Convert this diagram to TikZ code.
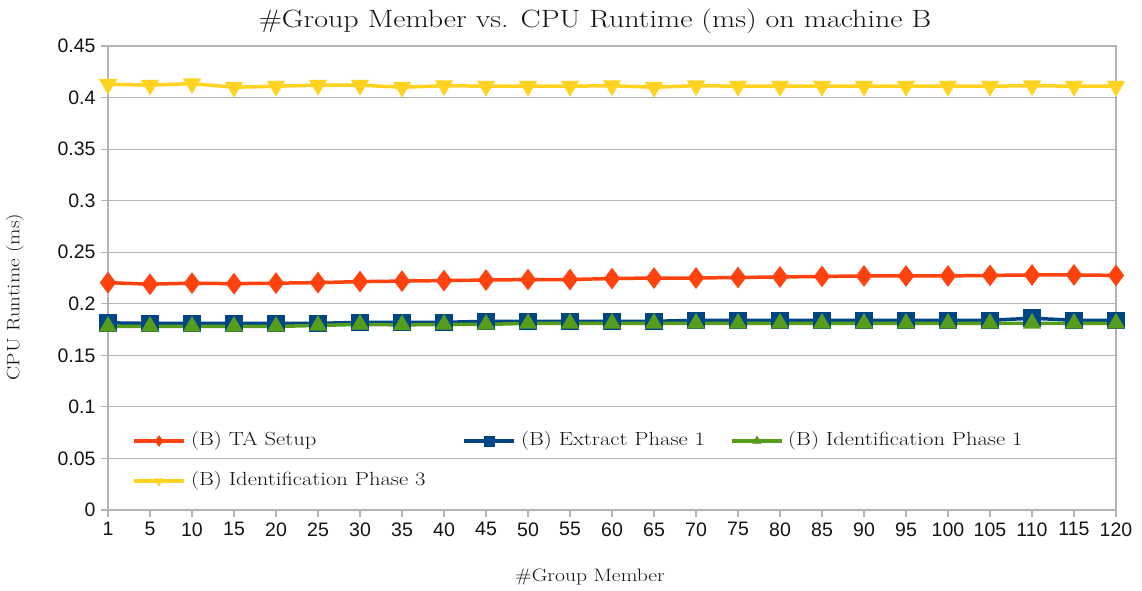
\documentclass[tikz,border=0pt]{standalone}
\usepackage{fontspec}
\usepackage{tikz}
\usepackage{pgfplots}
\usepackage{xcolor}
\pgfplotsset{compat=1.18}
\newfontfamily\ticksans{Liberation Sans}
\newcommand\wideserif[3]{{\fontsize{#1}{#1}\selectfont\scalebox{#2}[1]{#3}}}
\definecolor{Ink}{HTML}{141414}
\definecolor{Rule}{HTML}{B3B3B3}
\definecolor{SerRed}{HTML}{FF420E}
\definecolor{SerBlue}{HTML}{004586}
\definecolor{SerGreen}{HTML}{579D1C}
\definecolor{SerYellow}{HTML}{FFD320}

\begin{document}
\begin{tikzpicture}[x=1pt,y=1pt,
  lbl/.style={text=Ink,inner sep=0pt},
  legtxt/.style={lbl,anchor=west},
  legline/.style={line width=3.5pt},
  every node/.style={text=Ink}]
  \useasboundingbox (0,0) rectangle (1142,590);
  \begin{axis}[name=chart,at={(108pt,80pt)},anchor=south west,
    scale only axis,width=1008pt,height=464pt,
    xmin=0,xmax=24,ymin=0,ymax=0.45,
    xtick={0,...,24},
    xticklabels={1,5,10,15,20,25,30,35,40,45,50,55,60,65,70,75,80,85,90,95,100,105,110,115,120},
    ytick={0,0.05,0.1,0.15,0.2,0.25,0.3,0.35,0.4,0.45},
    yticklabels={0,0.05,0.1,0.15,0.2,0.25,0.3,0.35,0.4,0.45},
    tick pos=left,tick align=outside,major tick length=7pt,
    tick style={Rule,line width=1.2pt},
    axis line style={Rule,line width=1.5pt},
    ymajorgrids,grid style={Rule,line width=1.2pt},
    ticklabel style={font=\ticksans\fontsize{19.5}{20}\selectfont,text=Ink},
    yticklabel style={xshift=-2pt},
    xticklabel style={yshift=-2pt},
    clip=false,
    every axis plot/.append style={line width=3.5pt,mark size=7pt,mark options={solid}}]
    % TA setup
    \addplot[SerRed,mark=diamond*,mark size=8pt] coordinates {
      (0,0.2205)(1,0.219)(2,0.220)(3,0.2195)(4,0.220)(5,0.2205)(6,0.2215)(7,0.222)(8,0.2225)
      (9,0.223)(10,0.2235)(11,0.2235)(12,0.2245)(13,0.225)(14,0.225)(15,0.2255)(16,0.226)
      (17,0.2265)(18,0.227)(19,0.227)(20,0.227)(21,0.2275)(22,0.228)(23,0.228)(24,0.2275)};
    % extract phase 1
    \addplot[SerBlue,mark=square*] coordinates {
      (0,0.1815)(1,0.181)(2,0.181)(3,0.181)(4,0.181)(5,0.181)(6,0.182)(7,0.182)(8,0.182)
      (9,0.183)(10,0.183)(11,0.183)(12,0.183)(13,0.183)(14,0.184)(15,0.184)(16,0.184)
      (17,0.184)(18,0.184)(19,0.184)(20,0.184)(21,0.184)(22,0.186)(23,0.184)(24,0.184)};
    % identification phase 1
    \addplot[SerGreen,mark=triangle*] coordinates {
      (0,0.178)(1,0.178)(2,0.178)(3,0.178)(4,0.178)(5,0.179)(6,0.180)(7,0.1795)(8,0.180)
      (9,0.180)(10,0.181)(11,0.181)(12,0.181)(13,0.181)(14,0.181)(15,0.181)(16,0.181)
      (17,0.181)(18,0.181)(19,0.181)(20,0.181)(21,0.181)(22,0.181)(23,0.181)(24,0.181)};
    % identification phase 3
    \addplot[SerYellow,mark=triangle*,mark options={rotate=180}] coordinates {
      (0,0.413)(1,0.412)(2,0.4135)(3,0.410)(4,0.411)(5,0.412)(6,0.412)(7,0.410)(8,0.4115)
      (9,0.411)(10,0.411)(11,0.411)(12,0.4115)(13,0.410)(14,0.4115)(15,0.411)(16,0.411)
      (17,0.411)(18,0.411)(19,0.411)(20,0.411)(21,0.411)(22,0.4115)(23,0.411)(24,0.411)};
  \end{axis}

  % titles
  \node[lbl] (title) at (595,569) {\wideserif{25}{1.2}{\#Group Member vs. CPU Runtime (ms) on machine B}};
  \node[lbl,rotate=90] (ylab) at (15,293) {\wideserif{18}{1.18}{CPU Runtime (ms)}};
  \node[lbl] (xlab) at (590,13) {\wideserif{18}{1.2}{\#Group Member}};

  % legend
  \draw[legline,SerRed] (134,149) -- (184,149);
  \path[SerRed] plot[mark=diamond*,mark size=5.5pt] coordinates {(159,149)};
  \node[legtxt] (legTA) at (191,149) {\wideserif{19}{1.19}{(B) TA Setup}};
  \draw[legline,SerBlue] (464,149) -- (514,149);
  \path[SerBlue] plot[mark=square*,mark size=5pt] coordinates {(489,149)};
  \node[legtxt] (legEx) at (521,149) {\wideserif{19}{1.19}{(B) Extract Phase 1}};
  \draw[legline,SerGreen] (732,149) -- (782,149);
  \path[SerGreen] plot[mark=triangle*,mark size=5pt] coordinates {(757,149)};
  \node[legtxt] (legIdA) at (788,149) {\wideserif{19}{1.19}{(B) Identification Phase 1}};
  \draw[legline,SerYellow] (134,109) -- (184,109);
  \path[SerYellow] plot[mark=triangle*,mark size=5pt,mark options={rotate=180}] coordinates {(159,109)};
  \node[legtxt] (legIdC) at (191,109) {\wideserif{19}{1.19}{(B) Identification Phase 3}};
\end{tikzpicture}
\end{document}
